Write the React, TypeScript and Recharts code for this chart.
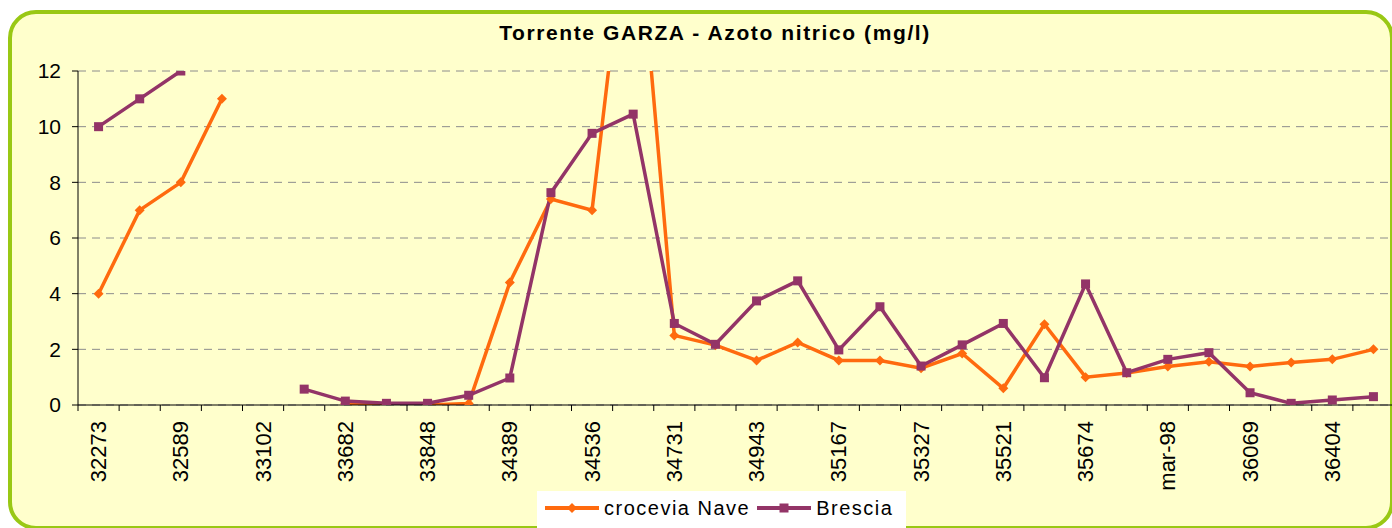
import React from 'react';
import { LineChart, Line, XAxis, YAxis, CartesianGrid, Legend } from 'recharts';

const categories = ['32273','32431','32589','32846','33102','33392','33682','33765','33848','34118','34389','34462','34536','34633','34731','34837','34943','35055','35167','35247','35327','35424','35521','35597','35674','35765','mar-98','35950','36069','36236','36404','36500'];
const naveValues: (number | null)[] = [4.0, 7.0, 8.0, 11.0, null, null, 0.05, 0.0, 0.0, 0.05, 4.4, 7.4, 7.0, 19.5, 2.5, 2.15, 1.6, 2.25, 1.6, 1.6, 1.32, 1.85, 0.6, 2.9, 1.0, 1.15, 1.38, 1.55, 1.38, 1.53, 1.64, 2.0];
const bresciaValues: (number | null)[] = [10.0, 11.0, 12.0, null, null, 0.57, 0.14, 0.06, 0.06, 0.35, 0.97, 7.63, 9.76, 10.45, 2.93, 2.18, 3.74, 4.46, 1.98, 3.53, 1.4, 2.16, 2.93, 0.98, 4.35, 1.16, 1.64, 1.88, 0.44, 0.06, 0.18, 0.3];
const yTicks = [0, 2, 4, 6, 8, 10, 12];
const seriesNames = { nave: 'crocevia Nave', brescia: 'Brescia' };
const title = 'Torrente GARZA - Azoto nitrico (mg/l)';

const data = categories.map((c, i) => ({ cat: c, nave: naveValues[i], brescia: bresciaValues[i] }));

const ORANGE = '#FF6A0E';
const PURPLE = '#933467';
const FONT = '"Liberation Sans", Arial, sans-serif';

const CHART_W = 1400;
const CHART_H = 528;
const MARGIN = { top: 71, right: 6, bottom: 0, left: 0 };
const Y_AXIS_W = 78;
const X_AXIS_H = 123;
const PLOT_W = CHART_W - MARGIN.left - MARGIN.right - Y_AXIS_W;
const PLOT_BOTTOM = CHART_H - MARGIN.bottom - X_AXIS_H;
const BAND = PLOT_W / categories.length;

const XTick = (props: any) => {
  const { x, payload } = props;
  const idx = payload.index;
  const tx = x - BAND / 2;
  return (
    <g>
      <line x1={tx} y1={PLOT_BOTTOM} x2={tx} y2={PLOT_BOTTOM + 6} stroke="#000" strokeWidth={1} />
      {idx % 2 === 0 && (
        <text
          x={x}
          y={PLOT_BOTTOM + 16}
          transform={`rotate(-90, ${x}, ${PLOT_BOTTOM + 16})`}
          textAnchor="end"
          dominantBaseline="central"
          fontSize={22}
          fontFamily={FONT}
          fill="#000"
        >
          {payload.value}
        </text>
      )}
    </g>
  );
};

const Diamond = (props: any) => {
  const { cx, cy } = props;
  if (cx == null || cy == null || props.value == null) return null;
  const r = 5;
  return <path d={`M${cx},${cy - r}L${cx + r},${cy}L${cx},${cy + r}L${cx - r},${cy}Z`} fill={ORANGE} />;
};

const Square = (props: any) => {
  const { cx, cy } = props;
  if (cx == null || cy == null || props.value == null) return null;
  const s = 4.5;
  return <rect x={cx - s} y={cy - s} width={2 * s} height={2 * s} fill={PURPLE} />;
};

const LegendContent = () => (
  <div
    style={{
      background: '#fff',
      width: 369,
      height: 40,
      display: 'flex',
      alignItems: 'center',
      fontFamily: FONT,
      fontSize: 20,
      letterSpacing: 1.5,
      color: '#000',
      boxSizing: 'border-box',
      paddingLeft: 8,
      paddingBottom: 6,
    }}
  >
    <svg width={54} height={12} style={{ marginRight: 5 }}>
      <line x1={0} y1={6} x2={54} y2={6} stroke={ORANGE} strokeWidth={4} />
      <path d="M27,1L32,6L27,11L22,6Z" fill={ORANGE} />
    </svg>
    <span style={{ marginRight: 7 }}>{seriesNames.nave}</span>
    <svg width={54} height={12} style={{ marginRight: 5 }}>
      <line x1={0} y1={6} x2={54} y2={6} stroke={PURPLE} strokeWidth={4} />
      <rect x={22.5} y={1.5} width={9} height={9} fill={PURPLE} />
    </svg>
    <span>{seriesNames.brescia}</span>
  </div>
);

export default function App() {
  return (
    <div style={{ position: 'absolute', left: 0, top: 0, width: 1392, height: 528, overflow: 'hidden', background: '#fff' }}>
      <div
        style={{
          position: 'absolute',
          left: 8,
          top: 10,
          width: 1386,
          height: 520,
          boxSizing: 'border-box',
          border: '4px solid #99C814',
          borderRadius: 28,
          background: '#FFFFCC',
        }}
      />
      <div
        style={{
          position: 'absolute',
          left: 0,
          top: 19,
          width: 1430,
          textAlign: 'center',
          fontFamily: FONT,
          fontWeight: 'bold',
          fontSize: 21,
          letterSpacing: 1.6,
          color: '#000',
          lineHeight: '28px',
        }}
      >
        {title}
      </div>
      <div style={{ position: 'absolute', left: 0, top: 0 }}>
        <LineChart width={CHART_W} height={CHART_H} data={data} margin={MARGIN}>
          <CartesianGrid vertical={false} stroke="#8C8C8C" strokeDasharray="8 6" strokeWidth={1} />
          <XAxis
            dataKey="cat"
            height={X_AXIS_H}
            interval={0}
            padding={{ left: BAND / 2, right: BAND / 2 }}
            axisLine={{ stroke: '#000', strokeWidth: 1 }}
            tickLine={false}
            tick={(p: any) => <XTick {...p} />}
          />
          <YAxis
            width={Y_AXIS_W}
            domain={[0, 12]}
            ticks={yTicks}
            allowDataOverflow
            axisLine={{ stroke: '#000', strokeWidth: 1 }}
            tickLine={{ stroke: '#000' }}
            tickSize={6}
            tickMargin={11}
            tick={{ fill: '#000', fontSize: 21, fontFamily: FONT }}
          />
          <Legend
            layout="horizontal"
            verticalAlign="middle"
            align="center"
            content={() => <LegendContent />}
            wrapperStyle={{ left: 537, top: 491, width: 369, height: 40 }}
          />
          <Line
            type="linear"
            dataKey="nave"
            name={seriesNames.nave}
            stroke={ORANGE}
            strokeWidth={3.5}
            dot={(p: any) => <Diamond key={`n${p.index}`} {...p} />}
            activeDot={false}
            isAnimationActive={false}
          />
          <Line
            type="linear"
            dataKey="brescia"
            name={seriesNames.brescia}
            stroke={PURPLE}
            strokeWidth={3.5}
            dot={(p: any) => <Square key={`b${p.index}`} {...p} />}
            activeDot={false}
            isAnimationActive={false}
          />
        </LineChart>
      </div>
    </div>
  );
}
